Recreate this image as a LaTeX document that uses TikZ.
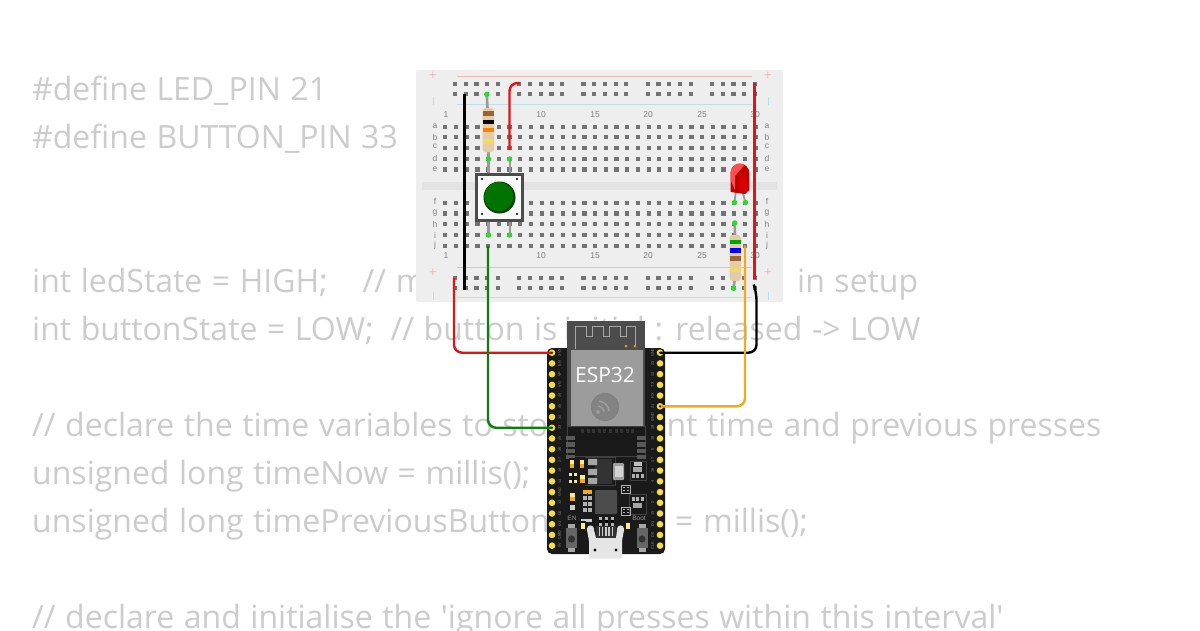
\documentclass[tikz,border=0pt]{standalone}
\usepackage{fontspec}
\setmainfont{Open Sans}
\newfontfamily\codefont[WordSpace=1.15]{Open Sans}
\newfontfamily\labelfont{Liberation Sans}
\definecolor{codegray}{HTML}{CCCCCC}
\definecolor{bbfill}{HTML}{EEEEEE}
\definecolor{bbgap}{HTML}{E3E3E3}
\definecolor{holegray}{HTML}{737373}
\definecolor{railred}{HTML}{F0B9AE}
\definecolor{railblue}{HTML}{BCDDEC}
\definecolor{wirered}{HTML}{DF1414}
\definecolor{wiregreen}{HTML}{0B7F0B}
\definecolor{wireorange}{HTML}{F2A91E}
\definecolor{pinyellow}{HTML}{F6DD45}
\definecolor{pingreen}{HTML}{35D435}
\definecolor{resbody}{HTML}{E2CDA8}
\definecolor{resgold}{HTML}{F2D868}
\definecolor{legray}{HTML}{9A9A9A}
\definecolor{boardblack}{HTML}{1A1A1A}
\definecolor{canfill}{HTML}{9C9C9C}
\definecolor{modfill}{HTML}{4C4C4C}
\definecolor{padgold}{HTML}{C9A227}
\definecolor{logogray}{HTML}{808080}
\tikzset{
  code/.style={anchor=base west,inner sep=0pt,text=codegray,font=\codefont\fontsize{32}{32}\selectfont},
  bbhole/.style={fill=holegray,draw=none,minimum size=4.2pt,inner sep=0pt,rectangle},
  bblabel/.style={text=gray,inner sep=0pt,font=\labelfont\fontsize{8.5}{8.5}\selectfont},
  railmark/.style={text=railred,inner sep=0pt,font=\labelfont\fontsize{13}{13}\selectfont},
  rail/.style={line width=.8pt},
  wire/.style={line width=2.4pt,rounded corners=8pt},
  lead/.style={line width=2.6pt,color=legray},
  greenpin/.style={circle,fill=pingreen,inner sep=0pt,minimum size=5.5pt},
  espin/.style={circle,fill=pinyellow,inner sep=0pt,minimum size=6.6pt},
  pinlabel/.style={text=gray!90,rotate=90,inner sep=0pt,font=\labelfont\fontsize{3.8}{3.8}\selectfont},
  pad/.style={fill=gray!70,draw=none},
  smdcap/.style={fill=pinyellow!60!white,draw=none}
}
\begin{document}
\begin{tikzpicture}[x=1pt,y=-1pt]
\useasboundingbox (0,0) rectangle (1200,630);
\clip (0,0) rectangle (1200,630);
\fill[white] (0,0) rectangle (1200,630);
% code behind the circuit
\node[code] (c1) at (32,100) {\#define LED\_PIN 21};
\node[code] (c2) at (32,148) {\#define BUTTON\_PIN 33};
\node[code] (c3) at (32,292) {int ledState = HIGH;\hspace{35pt}// m};
\node[code] (c3b) at (797,292) {in setup};
\node[code] (c4) at (32,340) {int buttonState = LOW;\hspace{17pt}// button is\hspace{6.5pt}initial : released -> LOW};
\node[code] (c5) at (32,436) {// declare the time variables to store current time and previous presses};
\node[code] (c6) at (32,484) {unsigned long timeNow = millis();};
\node[code] (c7) at (32,532) {unsigned long timePreviousButton};
\node[code] (c7b) at (675,532) {= millis();};
\node[code] (c8) at (32,628) {// declare and initialise the 'ignore all presses within this interval'};
% breadboard
\fill[bbfill,rounded corners=2pt] (416,70) rectangle (783,302);
\fill[bbgap] (422,182) rectangle (777,190);
\draw[rail,railred] (457,76) -- (752,76);
\draw[rail,railblue] (457,104) -- (752,104);
\draw[rail,railred] (457,267.7) -- (752,267.7);
\draw[rail,railblue] (457,297) -- (752,297);
\foreach \py in {76,273}{
  \node[railmark] at (433,\py) {+};
  \node[railmark] at (768,\py) {+};}
\foreach \py in {101,296}{
  \draw[rail,railblue] (433,\py-4) -- (433,\py+4);
  \draw[rail,railblue] (768,\py-4) -- (768,\py+4);}
% rail holes
\foreach \gx in {455,519.3,583.5,647.8,712}
  \foreach \k in {0,...,4}
    \foreach \ry in {84.3,94.3,278.3,288.3}
      \node[bbhole] at (\gx+\k*10.72,\ry) {};
% main holes
\foreach \c in {0,...,29}
  \foreach \ry in {126.7,137.3,148,159,169.5,202.7,213.5,224,235,245.7}
    \node[bbhole] at (445.3+\c*10.7,\ry) {};
% column labels
\foreach \t/\lx in {1/446,10/541,15/595,20/648,25/702,30/755}{
  \node[bblabel] at (\lx,115) {\t};
  \node[bblabel] at (\lx,256) {\t};}
% row labels
\foreach \t/\ly in {a/126,b/137,c/146,d/158,e/169,f/201,g/213,h/224,i/235,j/245}{
  \node[bblabel] at (435,\ly) {\t};
  \node[bblabel] at (767,\ly) {\t};}
% endpoints on the breadboard
\coordinate (bbBlackTop) at (464.5,94.3);
\coordinate (bbBlackBot) at (464.5,290);
\coordinate (bbRedShortA) at (509.5,150);
\coordinate (bbRedShortB) at (520,83);
\coordinate (bbRailA) at (754.5,83);
\coordinate (bbRailB) at (754.5,279);
\coordinate (bbRedEsp) at (454,278);
\coordinate (bbGreenEsp) at (488,245.7);
\coordinate (bbBlackEsp) at (755,288);
\coordinate (bbOrangeEsp) at (745,245.7);
% ESP32
\fill[boardblack,rounded corners=5pt] (547,348) rectangle (665,554);
\draw[line width=.4pt,gray!50!black,fill=black!90] (567,426) rectangle (645,456);
\fill[modfill] (567,321) rectangle (645,350);
\draw[line width=.9pt,gray!70] (575,349) -- (575,326) -- (586,326) -- (586,336) -- (592,336) -- (592,326) -- (603,326) -- (603,336) -- (609,336) -- (609,326) -- (620,326) -- (620,336) -- (626,336) -- (626,326) -- (635,326) -- (635,345);
\fill[padgold] (626,346) circle (1.5pt);
\fill[padgold] (635,346) circle (1.5pt);
\fill[modfill] (567,349) rectangle (645,426);
\fill[canfill] (571,349.5) rectangle (643,426);
\node[text=white,inner sep=0pt,font=\fontsize{21}{21}\selectfont] (esplabel) at (605,375) {ESP32};
\draw[line width=1.1pt,logogray,fill=logogray!90!canfill] (605,407) circle (13.5pt);
\foreach \r in {6,11}
  \draw[line width=1.6pt,canfill] (598,412) ++(-5:\r) arc (-5:-85:\r);
\fill[canfill] (598,412) circle (2pt);
\foreach \k in {0,...,9}
  \fill[gray!40!black] (581+\k*5.6,429) rectangle +(3,4);
\foreach \k in {0,...,3}{
  \fill[gray!70!black] (566,\k*6.3+436) rectangle +(9,4.4);
  \fill[gray!70!black] (637,\k*6.3+436) rectangle +(9,4.4);}
% pins
\foreach \t [count=\i] in {3V3,EN,VP,VN,34,35,32,33,25,26,27,14,12,GND,13,D2,D3,CMD,5V}{
  \node[espin] (L\i) at (552,352.7+\i*10.72-10.72) {};
  \node[pinlabel] at (559.5,352.7+\i*10.72-10.72) {\t};}
\foreach \t [count=\i] in {GND,23,22,TX,RX,21,GND,19,18,5,17,16,4,0,2,15,D1,D0,CLK}{
  \node[espin] (R\i) at (660,352.7+\i*10.72-10.72) {};
  \node[pinlabel] at (652.5,352.7+\i*10.72-10.72) {\t};}
% regulator area
\draw[line width=.4pt,gray!50!black] (585,457) -- (615,457) -- (615,485) -- (585,485);
\fill[black!80] (595,459) rectangle (612,484);
\foreach \py in {462,472,481}
  \fill[pad,rounded corners=.5pt] (588,\py-3.2) rectangle (597,\py+3.2);
\fill[gray!75,rounded corners=1pt] (613,463) rectangle (624,480);
\fill[gray!35] (615,466) rectangle (623,477);
\foreach \px/\py in {572/464,582/464,582.5/479,572.5/497}{
  \fill[black!90] (\px-3,\py-6) rectangle (\px+3,\py+6);
  \fill[smdcap] (\px-2.4,\py-4) rectangle (\px+2.4,\py+4);
  \fill[wireorange] (\px-2.4,\py) rectangle (\px+2.4,\py+4);}
% small parts
\fill[smdcap] (569,473) rectangle (577,476);
\fill[smdcap] (569,480) rectangle (577,483);
\fill[black] (572,473) rectangle (574,483);
\foreach \px in {0,1}
  \foreach \py in {0,...,3}
    \fill[gray!60] (583+\px*5,490+\py*6) rectangle +(3.5,4);
\fill[wireorange] (583,490) rectangle +(8,3);
\fill[gray!40] (570,505) rectangle +(5,5);
% main chip
\fill[black!70,rounded corners=1pt] (595,490) rectangle (617,514);
% side ICs
\draw[line width=.4pt,gray!50!black] (630,461) rectangle (646,480);
\fill[gray!50] (634,462) rectangle +(8,4);
\fill[gray!70] (633,467) rectangle +(9,5);
\foreach \k in {0,1,2}
  \fill[gray!60] (632+\k*4.4,474) rectangle +(3,4);
\draw[line width=.4pt,gray!50!black] (629,494) rectangle (646,514);
\foreach \k in {0,1,2}
  \fill[gray!60] (632+\k*4.4,497) rectangle +(3,4);
\fill[gray!70] (633,503) rectangle +(9,5);
\foreach \py in {489,511}{
  \draw[line width=.4pt,gray!60] (621,\py-4) rectangle (630,\py+4);
  \fill[gray!60] (623,\py-2) rectangle +(2,1.4);
  \fill[gray!60] (627,\py-2) rectangle +(2,1.4);
  \fill[gray!60] (623,\py+1) rectangle +(2,1.4);
  \fill[gray!60] (627,\py+1) rectangle +(2,1.4);}
\node[text=gray!80,inner sep=0pt,font=\labelfont\fontsize{6.5}{6.5}\selectfont] (enlabel) at (572,518) {EN};
\node[text=gray!80,inner sep=0pt,font=\labelfont\fontsize{6.5}{6.5}\selectfont] (bootlabel) at (639,518) {Boot};
\fill[gray!40] (581,519) rectangle +(11,3);
\foreach \k in {0,1,2}{
  \fill[gray!60] (599+\k*6.2,517) rectangle +(3,9);
  \fill[black] (599+\k*6.2,520) rectangle +(3,3);}
\foreach \px in {583,628}{
  \fill[black!90] (\px-2.5,521) rectangle (\px+2.5,531);
  \fill[smdcap] (\px-1.8,523) rectangle (\px+1.8,529);}
% buttons on the board
\foreach \px in {571.5,642}{
  \fill[gray!70] (\px-3.5,524) rectangle (\px+3.5,552);
  \fill[black!60] (\px-5.5,528) rectangle (\px+5.5,548);
  \fill[black!80] (\px,539) circle (3.6pt);}
% usb
\fill[black!80] (596,526) rectangle (616,538);
\foreach \k in {0,...,4}
  \fill[gray!40] (598.5+\k*3.3,527) rectangle +(1.6,9);
\fill[gray!20] (589,541) -- (589,558.5) -- (622,558.5) -- (622,541) -- (624,530) -- (617,530) -- (616,538) -- (596,538) -- (594,530) -- (587,530) -- cycle;
\fill[gray!25] (590.5,529) circle (3.6pt);
\fill[gray!25] (620.5,529) circle (3.6pt);
\fill[black] (595,550) circle (1.6pt);
\fill[black] (616,550) circle (1.6pt);
% resistor 1
\draw[lead] (486.8,94.3) -- (487.5,108);
\draw[lead] (488.5,150) -- (488.5,159);
\fill[resbody,rounded corners=3pt] (482.5,108) rectangle (494,152);
\foreach \col/\by in {brown!80!black/113.5,black/122,orange/130,resgold/141.5}
  \fill[\col] (482.5,\by-2.2) rectangle (494,\by+2.2);
\node[greenpin] (r1a) at (486.8,94.3) {};
\node[greenpin] (r1b) at (488.5,159) {};
% button
\draw[lead] (488.5,161) -- (488.5,174);
\draw[lead] (510,161) -- (510,174);
\draw[lead] (488.5,220) -- (488.5,235);
\draw[lead] (510,220) -- (510,235);
\node[greenpin] (b1) at (509.5,159) {};
\node[greenpin] (b2) at (488.5,235) {};
\node[greenpin] (b3) at (509.5,235) {};
\fill[white!96!gray,draw=black!70,line width=2.8pt] (476.4,174.1) rectangle (522.6,220.3);
\fill[green!25!black] (499.5,197.5) circle (16pt);
\fill[green!45!black] (498.7,196.7) circle (14.5pt);
\foreach \px in {482,517}
  \foreach \qy in {179,214}
    \fill[black] (\px,\qy) circle (1.2pt);
% led
\draw[lead,line width=1.8pt] (736,190) -- (734.5,202.5);
\draw[lead,line width=1.8pt] (742,190) -- (745.5,202.5);
\node[greenpin] (led1) at (734.5,202.5) {};
\node[greenpin] (led2) at (745.5,202.5) {};
\fill[red!75!black] (730.5,192) -- (730.5,173) arc (180:0:9.4pt) -- (749.3,190) -- (745,194) -- cycle;
\fill[red!70!white] (730.5,180) -- (730.5,173) arc (180:60:9.4pt) -- (735,176) -- (735,190) -- cycle;
\fill[red!85!black] (738,181) -- (746,172) -- (747,190) -- (741,193) -- cycle;
% resistor 2
\draw[lead] (734.7,223) -- (735,236);
\draw[lead] (735,278) -- (733.5,288.3);
\fill[resbody,rounded corners=3pt] (729.5,235) rectangle (741,281);
\foreach \col/\by in {green!65!black/242,blue/250.5,brown!80!black/258.5,resgold/270}
  \fill[\col] (729.5,\by-2.2) rectangle (741,\by+2.2);
\node[greenpin] (r2a) at (734.7,223) {};
\node[greenpin] (r2b) at (733.5,288.3) {};
% wires
\draw[wire,black] (bbBlackTop) -- (bbBlackBot);
\draw[wire,wirered] (bbRedShortA) -- (bbRedShortA |- bbRedShortB) -- (bbRedShortB);
\draw[wire,wirered] (bbRailA) -- (bbRailB);
\draw[wire,wirered] (bbRedEsp) -- (bbRedEsp |- L1) -- (L1.center);
\draw[wire,wiregreen] (bbGreenEsp) -- (bbGreenEsp |- L8) -- (L8.center);
\draw[wire,black] (bbBlackEsp) -- (756.5,292) -- (756.5,352.7) -- (R1.center);
\draw[wire,wireorange] (bbOrangeEsp) -- (bbOrangeEsp |- R6) -- (R6.center);
\fill[boardblack] (L1.center) circle (1.2pt);
\fill[boardblack] (L8.center) circle (1.2pt);
\fill[boardblack] (R1.center) circle (1.2pt);
\fill[boardblack] (R6.center) circle (1.2pt);
\end{tikzpicture}
\end{document}
